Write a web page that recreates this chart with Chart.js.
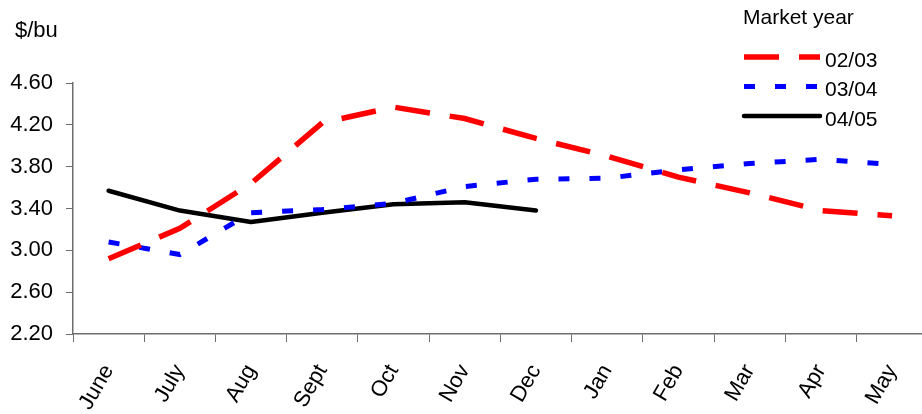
<!DOCTYPE html>
<html>
<head>
<meta charset="utf-8">
<script src="https://cdn.jsdelivr.net/npm/chart.js@4"></script>
<style>
  html, body { margin: 0; padding: 0; overflow: hidden; background: #fff; }
  .chart-box { position: relative; width: 933px; height: 414px; }
</style>
</head>
<body>
<div class="chart-box"><canvas id="myChart"></canvas></div>
<script>
// Data

const months = ["June", "July", "Aug", "Sept", "Oct", "Nov", "Dec", "Jan", "Feb", "Mar", "Apr", "May"];
const price0203 = [2.92, 3.21, 3.64, 4.22, 4.37, 4.26, 4.07, 3.9, 3.7, 3.55, 3.38, 3.33];
const price0304 = [3.08, 2.96, 3.36, 3.39, 3.45, 3.61, 3.68, 3.69, 3.77, 3.83, 3.87, 3.82];
const price0405 = [3.57, 3.38, 3.27, 3.36, 3.44, 3.46, 3.38];
const yMin = 2.2;
const yMax = 4.6;
const yStep = 0.4;

const fontFamily = "'Liberation Sans', Arial, sans-serif";
const axisGray = "#6e6e6e";

// Legend + unit label

const legendPlugin = {
  id: "marketLegend",
  afterDraw(chart) {
    const ctx = chart.ctx;
    ctx.save();
    ctx.fillStyle = "#000";
    ctx.textAlign = "left";
    ctx.textBaseline = "alphabetic";
    ctx.font = `22px ${fontFamily}`;
    ctx.fillText("$/bu", 15, 37);
    ctx.font = `21px ${fontFamily}`;
    ctx.fillText("Market year", 743, 24);

    chart.data.datasets.forEach((ds, i) => {
      const y = 57 + i * 29.5;
      ctx.beginPath();
      ctx.strokeStyle = ds.borderColor;
      ctx.lineWidth = ds.borderWidth;
      ctx.lineCap = ds.borderCapStyle || "butt";
      ctx.setLineDash(ds.borderDash || []);
      ctx.moveTo(744, y);
      ctx.lineTo(820, y);
      ctx.stroke();
      ctx.setLineDash([]);
      ctx.fillStyle = "#000";
      ctx.fillText(ds.label, 825, y + 9.5);
    });
    ctx.restore();
  },
};

// Chart

const data = {
  labels: months,
  datasets: [
    {
      label: "02/03",
      data: price0203,
      borderColor: "#ff0000",
      borderWidth: 5.5,
      borderDash: [35, 20],
      borderCapStyle: "butt",
      pointRadius: 0,
      tension: 0,
      fill: false,
    },
    {
      label: "03/04",
      data: price0304,
      borderColor: "#0000ff",
      borderWidth: 5,
      borderDash: [11, 20],
      borderCapStyle: "butt",
      pointRadius: 0,
      tension: 0,
      fill: false,
    },
    {
      label: "04/05",
      data: price0405,
      borderColor: "#000000",
      borderWidth: 4.5,
      borderCapStyle: "round",
      borderJoinStyle: "round",
      pointRadius: 0,
      tension: 0,
      fill: false,
    },
  ],
};

const config = {
  type: "line",
  data,
  options: {
    responsive: true,
    maintainAspectRatio: false,
    animation: false,
    layout: { padding: { top: 83, right: 1, bottom: 0, left: 0 } },
    plugins: {
      legend: { display: false },
      tooltip: { enabled: false },
    },
    scales: {
      x: {
        offset: true,
        grid: {
          offset: true,
          drawOnChartArea: false,
          drawTicks: true,
          tickLength: 8,
          color: axisGray,
        },
        border: { color: axisGray, width: 1.5 },
        ticks: {
          color: "#000",
          font: { family: fontFamily, size: 22 },
          minRotation: 60,
          maxRotation: 60,
          padding: 18,
          autoSkip: false,
        },
        afterFit(scale) {
          scale.height = 80;
        },
      },
      y: {
        min: yMin,
        max: yMax,
        grid: {
          drawOnChartArea: false,
          drawTicks: true,
          tickLength: 7,
          color: axisGray,
        },
        border: { color: axisGray, width: 1.5 },
        ticks: {
          stepSize: yStep,
          color: "#000",
          font: { family: fontFamily, size: 22 },
          padding: 13,
          callback: (v) => Number(v).toFixed(2),
        },
        afterFit(scale) {
          scale.width = 73;
        },
      },
    },
  },
  plugins: [legendPlugin],
};

const myChart = new Chart(document.getElementById("myChart"), config);
</script>
</body>
</html>
